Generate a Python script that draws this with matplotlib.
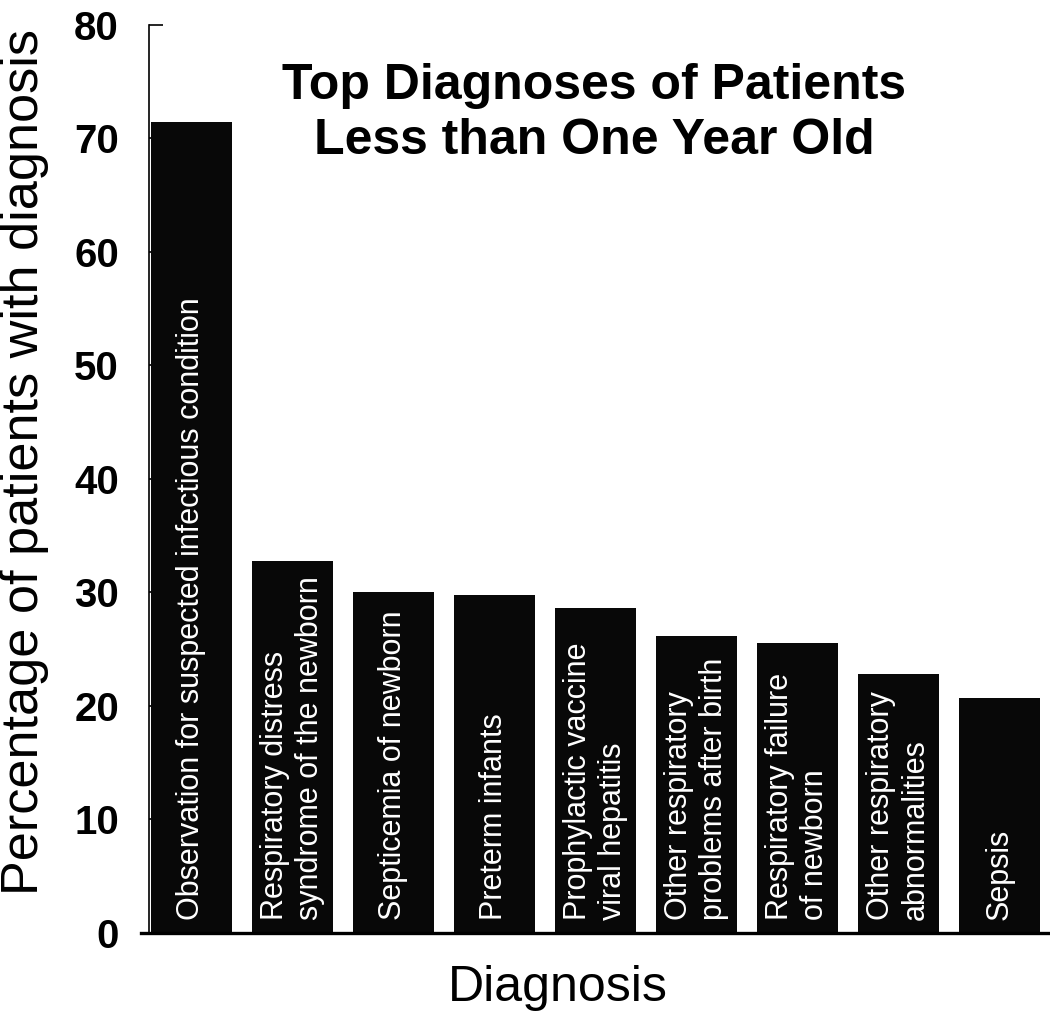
import matplotlib
matplotlib.use('Agg')
from matplotlib import pyplot as plt
from matplotlib import font_manager
import numpy as np

plt.rcParams['font.family'] = ['Liberation Sans', 'DejaVu Sans']

diagnoses = [
    'Observation for suspected infectious condition',
    'Respiratory distress\nsyndrome of the newborn',
    'Septicemia of newborn',
    'Preterm infants',
    'Prophylactic vaccine\nviral hepatitis',
    'Other respiratory\nproblems after birth',
    'Respiratory failure\nof newborn',
    'Other respiratory\nabnormalities',
    'Sepsis',
]
percent = [71.4, 32.8, 30.0, 29.8, 28.6, 26.2, 25.5, 22.8, 20.7]
yticks = [0, 10, 20, 30, 40, 50, 60, 70, 80]

# the y label in the original is set in a condensed face
names = {f.name for f in font_manager.fontManager.ttflist}
ylab_family = ['Liberation Sans Narrow', 'Liberation Sans'] if 'Liberation Sans Narrow' in names else ['Liberation Sans']

fig = plt.figure(figsize=(10.5, 10.13), dpi=100)
ax = fig.add_axes([141 / 1050, 1 - 933 / 1013, 909 / 1050, (933 - 24.7) / 1013])

x = np.arange(len(diagnoses))
ax.bar(x, percent, width=0.81, color='#080808', zorder=2)

# labels written inside the bars
for xi, label in zip(x, diagnoses):
    ax.text(xi, 1.15, label, rotation=90, ha='center', va='bottom',
            multialignment='left', color='white', fontsize=22, zorder=3)

ax.set_xlim(-0.5, 8.5)
ax.set_ylim(0, 80)
ax.set_xticks([])
ax.set_yticks(yticks)
ax.tick_params(axis='y', direction='in', length=10, width=1.2, pad=22, labelsize=29)

ax.spines['top'].set_visible(False)
ax.spines['right'].set_visible(False)
ax.spines['left'].set_position(('data', -0.416))
ax.spines['left'].set_linewidth(1.2)
ax.spines['bottom'].set_linewidth(2.4)

ylab = fig.text(25 / 1050, 1 - 462 / 1013, 'Percentage of patients with diagnosis',
                rotation=90, ha='center', va='center', fontsize=34, family=ylab_family)
ax.set_xlabel('Diagnosis', fontsize=36)
ax.xaxis.set_label_coords(0.458, -0.035)

fig.text(594 / 1050, 1 - 63 / 1013, 'Top Diagnoses of Patients\nLess than One Year Old',
         ha='center', va='top', fontsize=36, fontweight='bold', linespacing=1.25)

# fit the y label to the length it has in the original (about 865 px)
fig.canvas.draw()
h = ylab.get_window_extent().height
ylab.set_fontsize(34 * 865 / h)

for lab in ax.get_yticklabels():
    lab.set_fontweight('bold')

plt.savefig('out.png', dpi=100)
